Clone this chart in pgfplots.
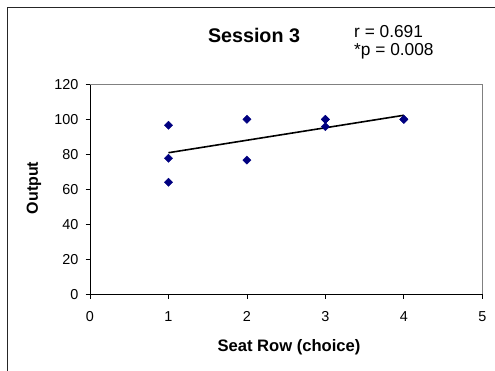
\documentclass[border=0pt]{standalone}
\usepackage{pgfplots}
\pgfplotsset{compat=1.18}
\usepackage{fontspec}
\setmainfont{Liberation Sans}
\definecolor{mknavy}{HTML}{000080}
\begin{document}
\begin{tikzpicture}
\path[use as bounding box] (0,0) rectangle (495bp,371bp);
\draw[line width=1.2bp, black!85] (7.8bp,0) -- (7.8bp,363.2bp) -- (495bp,363.2bp);
\begin{axis}[
  at={(90bp,76.7bp)}, anchor=south west,
  scale only axis, width=392.3bp, height=210bp,
  xmin=0, xmax=5, ymin=0, ymax=120,
  xtick={0,1,2,3,4,5}, ytick={0,20,40,60,80,100,120},
  axis lines*=left,
  axis line style={-, black, line width=0.8bp},
  tick align=outside, major tick length=4.5bp,
  tick style={black, line width=0.8bp},
  /pgf/number format/assume math mode=true,
  tick label style={font=\fontsize{14.4bp}{17bp}\selectfont, text=black},
  xticklabel style={yshift=-9.5bp},
  yticklabel style={xshift=-3.5bp},
  clip=false,
]
\addplot[black, line width=1.6bp] coordinates {(1,80.9) (4,102.3)};
\addplot[only marks, mark=square*, mark size=2.9bp,
  mark options={fill=mknavy, draw=mknavy, rotate=45}] coordinates {
  (1,96.6) (1,77.7) (1,64.0)
  (2,100.0) (2,76.7)
  (3,100.0) (3,100.0) (3,95.8)
  (4,100.0) (4,100.0)
};
\draw[gray, line width=0.8bp] (rel axis cs:0,1) -- (rel axis cs:1,1) -- (rel axis cs:1,0);
\end{axis}
\node[font=\bfseries\fontsize{19.7bp}{23bp}\selectfont] at (254bp,336bp) {Session 3};
\node[anchor=west, font=\fontsize{17.3bp}{20bp}\selectfont, inner sep=0pt] at (354bp,339bp) {r = 0.691};
\node[anchor=west, font=\fontsize{17.3bp}{20bp}\selectfont, inner sep=0pt] at (354bp,320bp) {*p = 0.008};
\node[font=\bfseries\fontsize{16.6bp}{19bp}\selectfont] at (289bp,24bp) {Seat Row (choice)};
\node[font=\bfseries\fontsize{16bp}{19bp}\selectfont, rotate=90] at (34bp,183bp) {Output};
\end{tikzpicture}
\end{document}
